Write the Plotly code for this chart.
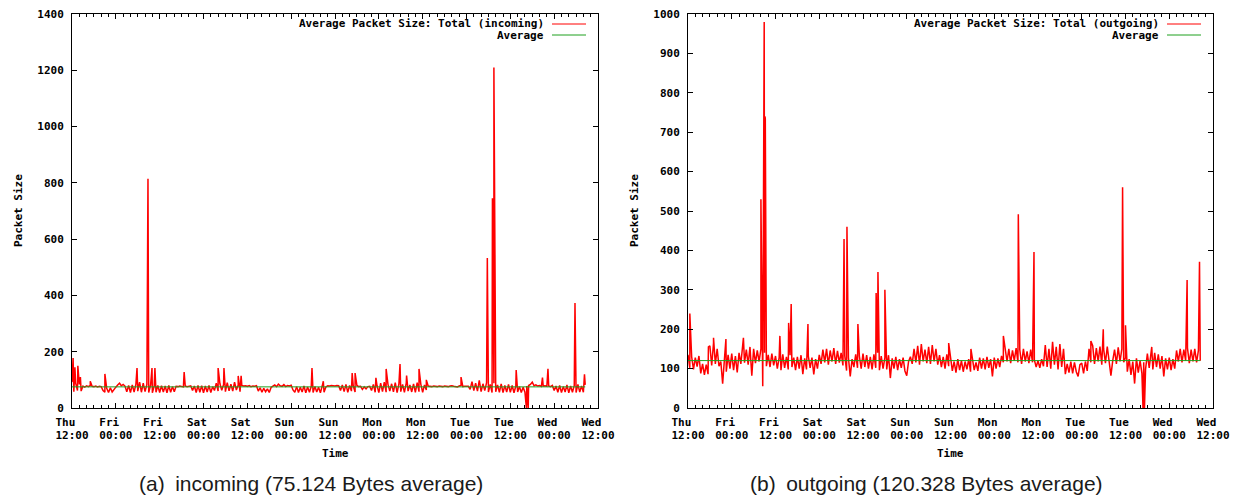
import pandas as pd
import plotly.graph_objects as go

# ---- data -------------------------------------------------------------
START = pd.Timestamp("2007-03-01 12:00")   # Thursday 12:00
STEP_MIN = 30                               # sampling step of the base series

tick_days = ["Thu", "Fri", "Fri", "Sat", "Sat", "Sun", "Sun",
             "Mon", "Mon", "Tue", "Tue", "Wed", "Wed"]
tick_times = ["12:00", "00:00", "12:00", "00:00", "12:00", "00:00", "12:00",
              "00:00", "12:00", "00:00", "12:00", "00:00", "12:00"]

in_average = 75.124
out_average = 120.328

# incoming average packet size (bytes), one value every 30 minutes
in_base = [
    92, 58, 88, 62, 84, 60, 78, 74, 79, 76, 80, 77,
    76, 78, 75, 77, 76, 62, 56, 70, 55, 72, 57, 68,
    74, 82, 88, 79, 84, 78, 58, 80, 55, 82, 57, 85,
    60, 92, 56, 88, 58, 84, 55, 80, 54, 78, 56, 80,
    55, 79, 57, 78, 54, 80, 56, 76, 58, 77, 76, 78,
    77, 75, 78, 76, 77, 79, 62, 78, 55, 80, 56, 79,
    54, 78, 57, 80, 55, 76, 62, 88, 60, 86, 63, 84,
    58, 90, 61, 85, 60, 92, 64, 82, 58, 80, 78, 79,
    77, 80, 76, 78, 77, 79, 60, 72, 56, 70, 58, 68,
    55, 73, 78, 82, 76, 85, 79, 77, 83, 76, 80, 78,
    81, 64, 56, 76, 55, 74, 57, 78, 54, 75, 56, 77,
    55, 76, 57, 74, 54, 78, 56, 75, 79, 78, 80, 79,
    78, 80, 79, 62, 82, 58, 84, 56, 80, 60, 78, 57,
    80, 76, 77, 66, 75, 68, 76, 77, 62, 84, 56, 80,
    55, 88, 58, 92, 56, 84, 60, 86, 57, 90, 55, 86,
    58, 84, 56, 88, 60, 82, 57, 86, 56, 90, 58, 84,
    56, 82, 64, 78, 77, 76, 78, 77, 76, 78, 77, 76,
    78, 77, 76, 78, 79, 77, 76, 75, 78, 80, 76, 77,
    78, 77, 66, 94, 62, 88, 60, 98, 58, 86, 62, 90,
    57, 84, 55, 88, 58, 82, 56, 86, 55, 80, 57, 84,
    56, 80, 54, 78, 57, 76, 55, 74, 56, 78, 80, 84,
    92, 79, 82, 78, 80, 77, 78, 79, 77, 78, 76, 80,
    62, 78, 56, 80, 55, 76, 57, 82, 54, 78, 56, 80,
    55, 84, 57, 78, 56, 82,
]
# short-lived peaks / drops: hours after start and value
in_peak_hours = [0.3, 0.8, 1.6, 2.3, 5.0, 9.0, 17.8, 20.8, 21.9, 22.7, 30.7,
                 40.0, 41.6, 45.5, 46.3, 65.7, 68.8, 76.7, 77.5, 83.2, 86.0,
                 89.8, 91.6, 95.0, 97.0, 106.5, 113.7, 115.1, 115.5, 121.6,
                 124.4, 124.9, 128.8, 130.3, 137.7, 140.3]
in_peak_values = [178, 145, 150, 110, 95, 121, 142, 815, 142, 142, 128,
                  142, 142, 114, 114, 142, 95, 124, 124, 107, 139,
                  156, 115, 139, 100, 110, 533, 745, 1210, 135,
                  0, 0, 108, 139, 373, 120]

# outgoing average packet size (bytes), one value every 30 minutes
out_base = [
    135, 102, 130, 98, 128, 105, 132, 88, 112, 84, 110, 86,
    158, 108, 165, 112, 150, 106, 118, 62, 128, 92, 135, 100,
    138, 96, 132, 90, 140, 112, 152, 115, 148, 110, 155, 82,
    150, 114, 146, 118, 150, 55, 140, 106, 135, 104, 138, 108,
    132, 100, 128, 96, 136, 102, 130, 98, 134, 104, 128, 96,
    130, 100, 134, 86, 126, 98, 132, 102, 128, 85, 124, 100,
    135, 112, 148, 116, 150, 110, 146, 118, 152, 112, 145, 115,
    140, 108, 132, 95, 128, 80, 124, 104, 136, 102, 132, 100,
    138, 104, 134, 100, 130, 98, 136, 102, 140, 96, 132, 100,
    128, 98, 134, 76, 126, 100, 130, 96, 124, 102, 128, 94,
    82, 118, 130, 112, 150, 116, 158, 110, 162, 118, 148, 114,
    155, 112, 160, 118, 150, 110, 134, 104, 130, 100, 136, 106,
    122, 94, 118, 90, 124, 96, 120, 92, 118, 98, 124, 92,
    120, 96, 116, 94, 128, 100, 126, 98, 130, 102, 124, 80,
    128, 100, 126, 104, 132, 116, 148, 118, 150, 114, 146, 120,
    152, 116, 148, 112, 150, 118, 144, 114, 148, 116, 122, 104,
    120, 102, 124, 106, 160, 104, 150, 100, 168, 110, 155, 98,
    162, 104, 150, 86, 112, 90, 118, 88, 116, 92, 80, 110,
    114, 88, 118, 94, 150, 116, 158, 112, 152, 118, 156, 110,
    150, 114, 156, 116, 82, 120, 148, 112, 154, 118, 150, 116,
    128, 92, 124, 84, 118, 62, 126, 90, 120, 88, 116, 98,
    138, 102, 144, 98, 140, 104, 136, 100, 132, 80, 126, 98,
    128, 96, 124, 100, 146, 118, 150, 116, 148, 120, 152, 114,
    148, 118, 150, 116, 146, 120,
]
out_peak_hours = [0.5, 5.6, 7.0, 10.4, 15.2, 20.0, 20.9, 21.1, 21.2, 25.2,
                  27.6, 28.3, 32.9, 42.8, 43.6, 46.6, 51.6, 52.1, 54.0, 71.5,
                  77.6, 86.5, 90.6, 94.9, 110.5, 113.9, 119.2, 119.4, 120.0,
                  124.8, 125.2, 127.2, 136.9, 140.3]
out_peak_values = [240, 155, 178, 175, 178, 530, 980, 740, 735, 183,
                   216, 264, 213, 429, 460, 213, 292, 345, 300, 165,
                   150, 183, 492, 396, 170, 200, 560, 342, 210,
                   0, 0, 155, 325, 371]


# ---- helpers ----------------------------------------------------------
def build_series(base, peak_hours, peak_values):
    times = [START + pd.Timedelta(minutes=STEP_MIN * i) for i in range(len(base))]
    times += [START + pd.Timedelta(hours=h) for h in peak_hours]
    values = list(base) + list(peak_values)
    df = pd.DataFrame({"t": times, "v": values})
    return df.sort_values("t", kind="stable")


W, H = 1250, 497


def px(x):
    return x / W


def py(y):
    return 1 - y / H


MONO = "DejaVu Sans Mono"
tick_font = dict(family=MONO, size=11, color="black", weight="bold")
RED = "#ff0000"
GREEN = "#1fa01f"

tick_vals = [START + pd.Timedelta(hours=12 * k) for k in range(len(tick_days))]
# day names padded so that they line up with the left edge of the time line
day_text = [f"{d}\u00a0\u00a0" for d in tick_days]
x_end = START + pd.Timedelta(hours=12 * (len(tick_days) - 1))

panels = [
    dict(base=in_base, hours=in_peak_hours, vals=in_peak_values, avg=in_average,
         name="Average Packet Size: Total (incoming)", ymax=1400, dy=200,
         left=72, right=598, caption="(a)\u2002incoming (75.124 Bytes average)"),
    dict(base=out_base, hours=out_peak_hours, vals=out_peak_values, avg=out_average,
         name="Average Packet Size: Total (outgoing)", ymax=1000, dy=100,
         left=688, right=1213, caption="(b)\u2002outgoing (120.328 Bytes average)"),
]

TOP, BOTTOM = 14, 408

fig = go.Figure()
annotations = []
shapes = []

for i, p in enumerate(panels):
    sfx = "" if i == 0 else str(i + 1)
    osfx = str(i + 3)                 # overlay x-axis carrying the time-of-day line
    xa, ya, xo = "x" + sfx, "y" + sfx, "x" + osfx
    df = build_series(p["base"], p["hours"], p["vals"])
    fig.add_trace(go.Scatter(x=df["t"], y=df["v"], mode="lines",
                             line=dict(color=RED, width=1.5),
                             name=p["name"], xaxis=xa, yaxis=ya, showlegend=False))
    t_last = df["t"].iloc[-1]
    fig.add_trace(go.Scatter(x=[START, t_last], y=[p["avg"], p["avg"]], mode="lines",
                             line=dict(color=GREEN, width=1),
                             name="Average", xaxis=xo, yaxis=ya, showlegend=False))

    common = dict(showline=True, linecolor="black", linewidth=1, mirror="ticks",
                  ticks="inside", tickcolor="black", showgrid=False, zeroline=False,
                  tickfont=tick_font, automargin=False)
    fig.layout["xaxis" + sfx] = dict(
        **common, type="date", domain=[px(p["left"]), px(p["right"])],
        range=[START, x_end], tickmode="array", tickvals=tick_vals, ticktext=day_text,
        ticklen=5, anchor=ya, ticklabelstandoff=4,
        minor=dict(ticks="inside", ticklen=3, tickcolor="black",
                   tick0=START, dtick=2 * 3600 * 1000, showgrid=False),
    )
    fig.layout["xaxis" + osfx] = dict(
        type="date", overlaying=xa, anchor=ya, side="bottom", range=[START, x_end],
        domain=[px(p["left"]), px(p["right"])],
        tickmode="array", tickvals=tick_vals, ticktext=tick_times,
        showline=False, ticks="", showgrid=False, zeroline=False,
        tickfont=tick_font, automargin=False, ticklabelstandoff=19,
    )
    fig.layout["yaxis" + sfx] = dict(
        **common, domain=[py(BOTTOM), py(TOP)], range=[0, p["ymax"]],
        tick0=0, dtick=p["dy"], ticklen=5, anchor=xa, ticklabelstandoff=5,
    )

    mid = (p["left"] + p["right"]) / 2
    # axis titles
    annotations.append(dict(text="Time", x=px(mid), y=py(453), xref="paper", yref="paper",
                            showarrow=False, font=tick_font, xanchor="center", yanchor="middle"))
    annotations.append(dict(text="Packet Size", x=px(p["left"] - 54), y=py((TOP + BOTTOM) / 2),
                            xref="paper", yref="paper", showarrow=False, textangle=-90,
                            font=tick_font, xanchor="center", yanchor="middle"))
    # sub-figure caption
    annotations.append(dict(text=p["caption"], x=px(mid - 24), y=py(483), xref="paper",
                            yref="paper", showarrow=False, xanchor="center", yanchor="middle",
                            font=dict(family="Liberation Sans", size=21, color="#1a1a1a")))
    # key (text right-aligned, sample on the right)
    text_right = p["right"] - 52
    for row, (label, colr) in enumerate([(p["name"], RED), ("Average", GREEN)]):
        yy = 24 + 11 * row
        annotations.append(dict(text=label, x=px(text_right), y=py(yy), xref="paper",
                                yref="paper", showarrow=False, xanchor="right",
                                yanchor="middle", font=tick_font))
        shapes.append(dict(type="line", xref="paper", yref="paper",
                           x0=px(text_right + 6), x1=px(p["right"] - 12),
                           y0=py(yy), y1=py(yy), line=dict(color=colr, width=1)))

fig.update_layout(
    width=W, height=H, margin=dict(l=0, r=0, t=0, b=0),
    paper_bgcolor="white", plot_bgcolor="white",
    annotations=annotations, shapes=shapes, showlegend=False,
)

fig.write_html("out.html", config={"displayModeBar": False})
